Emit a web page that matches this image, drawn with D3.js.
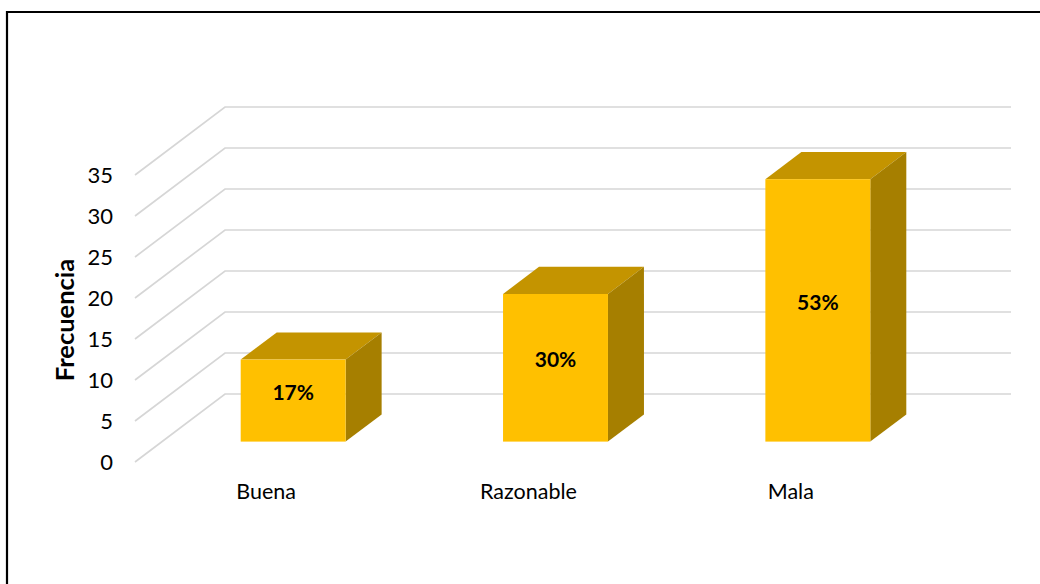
<!DOCTYPE html>
<html>
<head>
<meta charset="utf-8">
<script src="https://cdn.jsdelivr.net/npm/d3@7/dist/d3.min.js"></script>
<style>
  html, body { margin: 0; padding: 0; background: #ffffff; }
  svg { display: block; }
  text { font-family: Lato, "Open Sans", sans-serif; }
</style>
</head>
<body>
<svg id="chart" width="1040" height="584"></svg>
<script>
// Frequency per rating
const categories = ["Buena", "Razonable", "Mala"];
const frequencies = [10, 18, 32];
const percentLabels = ["17%", "30%", "53%"];
const yTicks = [0, 5, 10, 15, 20, 25, 30, 35];
const yTitle = "Frecuencia";

const svg = d3.select("#chart");

// Oblique 3D projection: floor front edge and depth vector
const floorFrontY = 462;
const depth = { dx: 90, dy: -68 };
const barDepthStart = 0.3;   // fraction of floor depth where bar front sits
const barDepthSize = 0.4;    // fraction of floor depth occupied by bars

const x = d3.scaleBand()
  .domain(categories)
  .range([135, 922])
  .paddingInner(0)
  .paddingOuter(0);

const barWidth = x.bandwidth() * 0.4;

// Vertical value scale (pixels above the floor)
const h = d3.scaleLinear().domain([0, 35]).range([0, 287]);

// Frame (top and left edges)
svg.append("path")
  .attr("d", "M7,584 L7,12 L1040,12")
  .attr("fill", "none")
  .attr("stroke", "#000")
  .attr("stroke-width", 2.2);

// Gridlines: diagonal on side wall, horizontal on back wall
const backX0 = x.range()[0] + depth.dx;
const backX1 = 1011;
const grid = svg.append("g")
  .attr("fill", "none")
  .attr("stroke", "#d6d6d6")
  .attr("stroke-width", 1.7);

yTicks.forEach(v => {
  const yb = floorFrontY + depth.dy - h(v);
  const yf = floorFrontY - h(v);
  grid.append("path")
    .attr("d", `M${x.range()[0]},${yf} L${backX0},${yb} L${backX1},${yb}`);
});

// Y tick labels
svg.append("g")
  .selectAll("text")
  .data(yTicks)
  .join("text")
  .attr("x", 113)
  .attr("y", d => floorFrontY - h(d) - 1)
  .attr("dominant-baseline", "central")
  .attr("text-anchor", "end")
  .attr("font-size", 22)
  .attr("fill", "#000")
  .text(d => d);

// Y axis title
svg.append("text")
  .attr("transform", "translate(74,320) rotate(-90)")
  .attr("text-anchor", "middle")
  .attr("font-size", 25.5)
  .attr("font-weight", 700)
  .attr("fill", "#000")
  .text(yTitle);

// Bars as prisms
const fx = depth.dx * barDepthStart, fy = depth.dy * barDepthStart;
const bx = depth.dx * barDepthSize, by = depth.dy * barDepthSize;

const bars = svg.append("g")
  .selectAll("g")
  .data(categories.map((c, i) => ({ c, v: frequencies[i], label: percentLabels[i] })))
  .join("g");

bars.each(function(d) {
  const g = d3.select(this);
  const left = x(d.c) + x.bandwidth() / 2 - barWidth / 2 + fx;
  const right = left + barWidth;
  const bottom = floorFrontY + fy;
  const top = bottom - h(d.v);
  const pts = a => a.map(p => p.join(",")).join(" ");
  // top face
  g.append("polygon")
    .attr("points", pts([[left, top], [left + bx, top + by], [right + bx, top + by], [right, top]]))
    .attr("fill", "#c49400");
  // side face
  g.append("polygon")
    .attr("points", pts([[right, top], [right + bx, top + by], [right + bx, bottom + by], [right, bottom]]))
    .attr("fill", "#a67f00");
  // front face
  g.append("rect")
    .attr("x", left).attr("y", top)
    .attr("width", barWidth).attr("height", bottom - top)
    .attr("fill", "#ffc000");
  // value label
  g.append("text")
    .attr("x", left + barWidth / 2)
    .attr("y", (top + bottom) / 2 - 9)
    .attr("dominant-baseline", "central")
    .attr("text-anchor", "middle")
    .attr("font-size", 21)
    .attr("font-weight", 700)
    .attr("fill", "#000")
    .text(d.label);
});

// Category labels
svg.append("g")
  .selectAll("text")
  .data(categories)
  .join("text")
  .attr("x", d => x(d) + x.bandwidth() / 2)
  .attr("y", 499)
  .attr("text-anchor", "middle")
  .attr("font-size", 21.5)
  .attr("fill", "#000")
  .text(d => d);
</script>
</body>
</html>
